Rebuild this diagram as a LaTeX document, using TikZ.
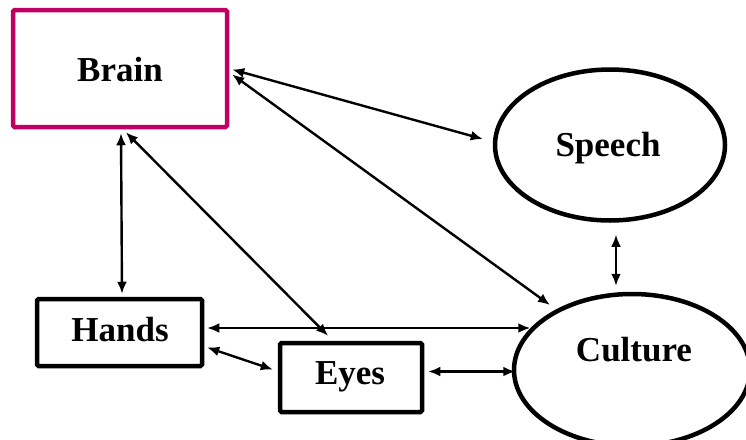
\documentclass[tikz,border=0pt]{standalone}
\usepackage{fontspec}
\setmainfont{Liberation Serif}
\usetikzlibrary{arrows.meta,shapes.geometric,calc}
\definecolor{brainpink}{RGB}{190,0,100}
\begin{document}
\begin{tikzpicture}[x=1pt,y=-1pt,
  lbl/.style={font=\fontsize{35}{40}\selectfont\bfseries},
  boxnode/.style={draw=black,line width=4.5pt,rounded corners=1.5pt,inner sep=0pt},
  ovalnode/.style={draw=black,line width=4.5pt,ellipse,inner sep=0pt},
  link/.style={line width=2.4pt,{Latex[length=12pt,width=10pt]}-{Latex[length=12pt,width=10pt]}}]
\useasboundingbox (0,0) rectangle (746,439);
\begin{scope}
\clip (0,0) rectangle (746,439);
\node[boxnode,draw=brainpink,minimum width=214pt,minimum height=117pt] (brain) at (120,68.5) {};
\node[lbl] (braint) at (120,70) {Brain};
\node[boxnode,minimum width=165pt,minimum height=67pt] (hands) at (119.5,332.5) {};
\node[lbl] (handst) at (120,330) {Hands};
\node[boxnode,minimum width=142pt,minimum height=69pt] (eyes) at (351,377.5) {};
\node[lbl] (eyest) at (350,377) {Eyes};
\node[ovalnode,minimum width=230pt,minimum height=151pt] (speech) at (610,145) {};
\node[lbl] (speecht) at (608,148) {Speech};
\node[ovalnode,minimum width=236pt,minimum height=152pt] (culture) at (632,370) {};
\node[lbl] (culturet) at (634,350) {Culture};
\end{scope}
% connectors
\coordinate (b1) at ($(brain.east)+(3,1)$);
\coordinate (s1) at ($(speech.west)+(-10,-6)$);
\draw[link] (b1) -- (s1);
\coordinate (b2) at ($(brain.east)+(3,6)$);
\coordinate (c2) at ($(culture.center)+(-82,-65)$);
\draw[link] (b2) -- (c2);
\coordinate (b3) at ($(brain.south)+(1,4)$);
\coordinate (h3) at ($(hands.north)+(2.5,-3)$);
\draw[link] (b3) -- (h3);
\coordinate (b4) at ($(brain.south)+(6,3)$);
\coordinate (e4) at ($(eyes.north)+(-23,-5)$);
\draw[link] (b4) -- (e4);
\coordinate (s5) at ($(speech.south)+(6,12)$);
\coordinate (c5) at ($(culture.north)+(-16,-6)$);
\draw[link] (s5) -- (c5);
\coordinate (h6) at ($(hands.east)+(3,-4.5)$);
\coordinate (c6) at ($(hands.east)+(326,-4.5)$);
\draw[link] (h6) -- (c6);
\coordinate (h7) at ($(hands.east)+(3,15)$);
\coordinate (e7) at ($(eyes.west)+(-5,-8)$);
\draw[link] (h7) -- (e7);
\coordinate (e8) at ($(eyes.east)+(4,-6)$);
\coordinate (c8) at ($(eyes.east)+(91,-6)$);
\draw[link] (e8) -- (c8);
\end{tikzpicture}
\end{document}
